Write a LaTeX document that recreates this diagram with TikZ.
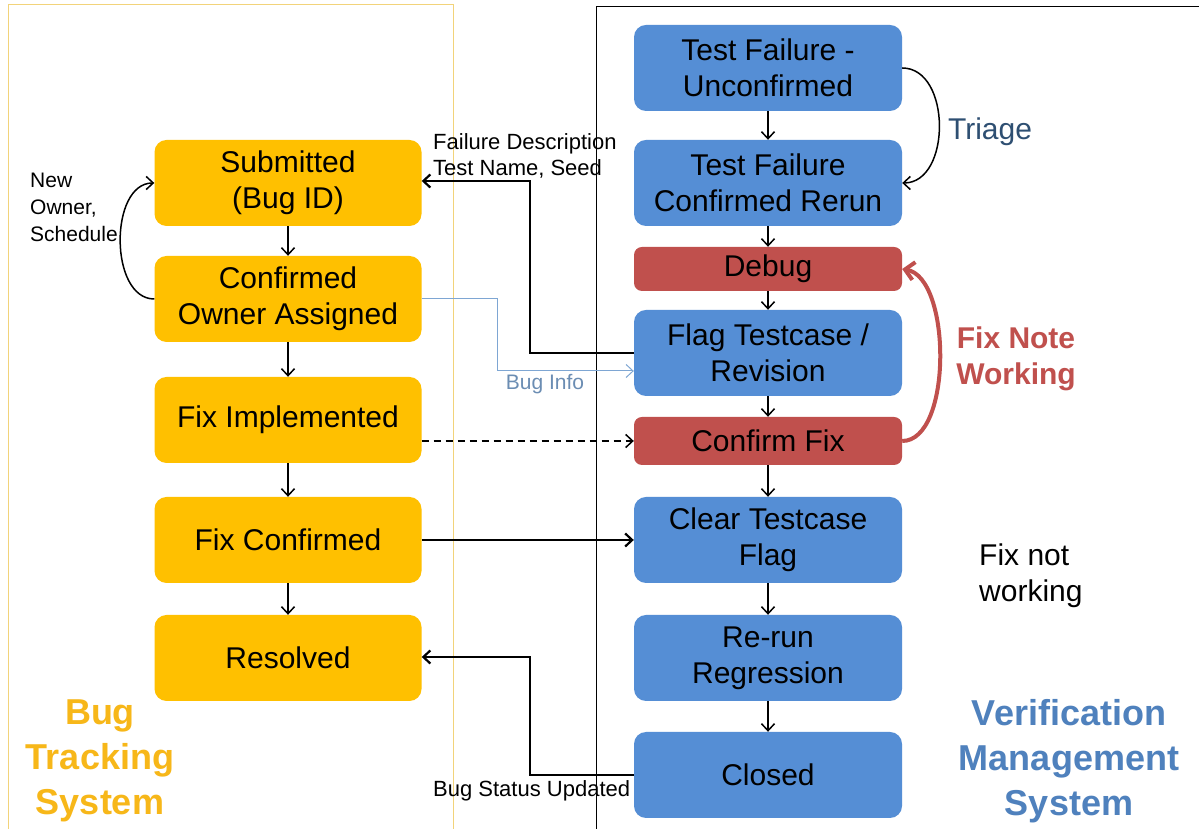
\documentclass[tikz,border=0pt]{standalone}
\usepackage{fontspec}
\setmainfont{Liberation Sans}
\usetikzlibrary{arrows.meta}
\definecolor{bugyellow}{HTML}{FFC000}
\definecolor{bugtitle}{HTML}{F7B719}
\definecolor{vmblue}{HTML}{558ED5}
\definecolor{vmtitle}{HTML}{4F81BD}
\definecolor{vmred}{HTML}{C0504D}
\definecolor{infoblue}{HTML}{7EA6D3}
\definecolor{triagecol}{HTML}{2E4F72}
\definecolor{panelyellow}{HTML}{F2D37A}
\tikzset{
    bugbox/.style={fill=bugyellow, rounded corners=12pt, minimum width=267pt, minimum height=86pt,
        inner sep=0pt, align=center, font=\fontsize{30}{36}\selectfont},
    vmbox/.style={bugbox, fill=vmblue, minimum width=268pt},
    redbox/.style={vmbox, fill=vmred, minimum height=46pt, rounded corners=8pt},
    flow/.style={-{Straight Barb[length=7pt,width=13pt]}, line width=1.5pt},
    link/.style={flow, line width=2.2pt},
    note/.style={inner sep=0pt, align=left, font=\fontsize{22}{26}\selectfont},
    bignote/.style={inner sep=0pt, align=center, font=\fontsize{30}{36}\selectfont},
    sysname/.style={inner sep=0pt, align=center, font=\fontsize{36}{45}\selectfont\bfseries}
}

\begin{document}
\begin{tikzpicture}[x=1pt,y=1pt]
    \useasboundingbox[fill=white] (0,0) rectangle (1199,829);
    \draw[panelyellow, line width=1pt] (8,-10) -- (8,824) -- (453,824) -- (453,-10);
    \draw[black, line width=1pt] (1210,822) -- (596,822) -- (596,-10);

    \node[bugbox] (sub) at (288,646) {Submitted\\(Bug ID)};
    \node[bugbox] (conf) at (288,530) {Confirmed\\Owner Assigned};
    \node[bugbox] (fiximp) at (288,409) {Fix Implemented};
    \node[bugbox] (fixconf) at (288,289) {Fix Confirmed};
    \node[bugbox] (resolved) at (288,171) {Resolved};

    \node[vmbox] (tfu) at (768,761) {Test Failure -\\Unconfirmed};
    \node[vmbox] (tfc) at (768,646) {Test Failure\\Confirmed Rerun};
    \node[redbox, minimum height=44pt] (debug) at (768,560) {Debug};
    \node[vmbox] (flag) at (768,476) {Flag Testcase /\\Revision};
    \node[redbox, minimum height=48pt] (cfix) at (768,388) {Confirm Fix};
    \node[vmbox] (clear) at (768,289) {Clear Testcase\\Flag};
    \node[vmbox] (rerun) at (768,171) {Re-run\\Regression};
    \node[vmbox] (closed) at (768,54) {Closed};

    \foreach \a/\b in {sub/conf, conf/fiximp, fiximp/fixconf, fixconf/resolved,
        tfu/tfc, tfc/debug, debug/flag, flag/cfix, cfix/clear, clear/rerun, rerun/closed}
        \draw[flow] (\a) -- (\b);

    \coordinate (fd) at (530,648);
    \coordinate (bi) at (497,458);
    \coordinate (bs) at (530,172);
    \draw[link] (flag.west) -| (fd) -- (sub.east |- fd);
    \draw[flow, infoblue, line width=1pt] (conf.east) -| (bi) -- (bi -| flag.west);
    \draw[flow, dash pattern=on 7pt off 5pt] (fiximp.east |- cfix.west) -- (cfix.west);
    \draw[link] (fixconf.east) -- (clear.west);
    \draw[link] (closed.west) -| (bs) -- (resolved.east |- bs);

    \draw[flow] (tfu.east) to[out=0, in=0, looseness=1.1] (tfc.east);
    \draw[flow] (conf.west) to[out=180, in=180, looseness=1.0] (sub.west);
    \draw[-{Straight Barb[length=9pt,width=18pt]}, vmred, line width=4pt]
        (cfix.east) to[out=0, in=-10, looseness=0.75] (debug.east);

    \node[note, anchor=north west] (fdtext) at (433,696) {Failure Description\\Test Name, Seed};
    \node[note, anchor=base west] (bstext) at (433,32) {Bug Status Updated};
    \node[note, anchor=north west, font=\fontsize{21}{27}\selectfont] (ownertext) at (30,656) {New\\Owner,\\Schedule};
    \node[note, text=infoblue!85!black, font=\fontsize{21}{26}\selectfont] (bitext) at (545,445) {Bug Info};
    \node[bignote, text=triagecol] (triage) at (990,697) {Triage};
    \node[bignote, text=vmred, font=\fontsize{30}{36}\selectfont\bfseries] (fixnote) at (1016,470) {Fix Note\\Working};
    \node[bignote, anchor=west, align=left] (notworking) at (979,253) {Fix not\\working};
    \node[sysname, text=bugtitle] (bts) at (100,68) {Bug\\Tracking\\System};
    \node[sysname, text=vmtitle] (vms) at (1069,68) {Verification\\Management\\System};
\end{tikzpicture}
\end{document}
